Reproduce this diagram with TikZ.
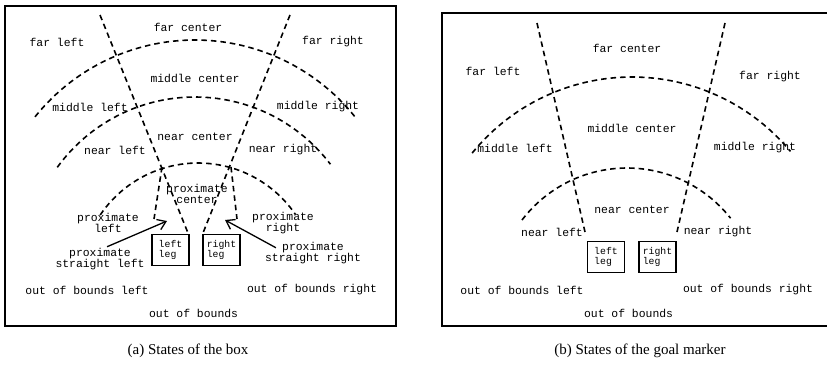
\documentclass[tikz,border=0pt]{standalone}
\usepackage{fontspec}
\setmainfont{Liberation Serif}
\setmonofont{Liberation Mono}
\usetikzlibrary{arrows.meta}

\begin{document}
\begin{tikzpicture}[
        x=1pt, y=-1pt,
        zone/.style={
            font=\ttfamily\fontsize{11.4}{11.5}\selectfont,
            align=center,
            inner sep=1pt
        },
        boundary/.style={
            line width=1.6pt,
            dash pattern=on 5.5pt off 4pt
        },
        legbox/.style={
            draw,
            line width=1.6pt,
            minimum width=37pt,
            minimum height=31pt,
            inner sep=2pt,
            align=left,
            font=\ttfamily\fontsize{9.8}{10}\selectfont
        },
        pointer/.style={
            line width=1.3pt,
            -{Straight Barb[length=8pt,width=11pt]}
        },
        panel/.style={line width=1.3pt},
        caption/.style={font=\fontsize{15}{17}\selectfont}
    ]
        \useasboundingbox (0,0) rectangle (827,372);

        % (a) box
        \draw[panel] (5,6) rectangle (396,326);
        \draw[boundary] plot[domain=218.7:321.5, samples=60] ({195+205*cos(\x)},{245+205*sin(\x)});
        \draw[boundary] plot[domain=215.9:322.8, samples=60] ({195+170*cos(\x)},{267+170*sin(\x)});
        \draw[boundary] plot[domain=214:325.5, samples=50] ({198+118*cos(\x)},{281+118*sin(\x)});
        \draw[boundary] (100,15) -- (188,233);
        \draw[boundary] (290,15) -- (203,233);
        \draw[boundary] (162,167) -- (154,219);
        \draw[boundary] (231,167) -- (237,219);

        \foreach \nombre/\px/\py/\texto in {
            a-fc/188/27/far center,
            a-fl/57/42/far left,
            a-fr/333/42/far right,
            a-mc/195/78/middle center,
            a-ml/90/107/middle left,
            a-mr/318/107/middle right,
            a-nc/195/137/near center,
            a-nl/115/150/near left,
            a-nr/283/150/near right,
            a-pc/197/194/proximate\\center,
            a-pl/108/223/proximate\\left,
            a-pr/283/223/proximate\\right,
            a-psl/100/259/proximate\\straight left,
            a-psr/313/253/proximate\\straight right,
            a-obl/87/290/out of bounds left,
            a-obr/312/290/out of bounds right,
            a-ob/197/313/out of bounds
        } {
            \node[zone] (\nombre) at (\px,\py) {\texto};
        }

        \node[legbox] (a-left) at (170.5,250) {left\\leg};
        \node[legbox] (a-right) at (221.5,250) {right\\leg};

        \coordinate (a-psl-tip) at (167,221);
        \coordinate (a-psr-tip) at (225,220);
        \draw[pointer] (a-psl.60) -- (a-psl-tip);
        \draw[pointer] ([xshift=12pt,yshift=-7pt]a-psr.north west) -- (a-psr-tip);

        % (b) goal marker
        \draw[panel] (827,13) -- (442,13) -- (442,326) -- (827,326);
        \draw[boundary] plot[domain=219.1:320.3, samples=60] ({632+206*cos(\x)},{283+206*sin(\x)});
        \draw[boundary] plot[domain=217.3:321.7, samples=50] ({627+132*cos(\x)},{300+132*sin(\x)});
        \draw[boundary] (537,23) -- (585,232);
        \draw[boundary] (725,23) -- (677,232);

        \foreach \nombre/\px/\py/\texto in {
            b-fc/627/48/far center,
            b-fl/493/71/far left,
            b-fr/770/77/far right,
            b-mc/632/128/middle center,
            b-ml/515/148/middle left,
            b-mr/755/148/middle right,
            b-nc/632/210/near center,
            b-nl/552/232/near left,
            b-nr/718/232/near right,
            b-obl/522/290/out of bounds left,
            b-obr/748/290/out of bounds right,
            b-ob/632/313/out of bounds
        } {
            \node[zone] (\nombre) at (\px,\py) {\texto};
        }

        \node[legbox] (b-left) at (606,257) {left\\leg};
        \node[legbox] (b-right) at (657.5,257) {right\\leg};

        \node[caption] (cap-a) at (188,351) {(a) States of the box};
        \node[caption] (cap-b) at (640,351) {(b) States of the goal marker};
    \end{tikzpicture}
\end{document}
